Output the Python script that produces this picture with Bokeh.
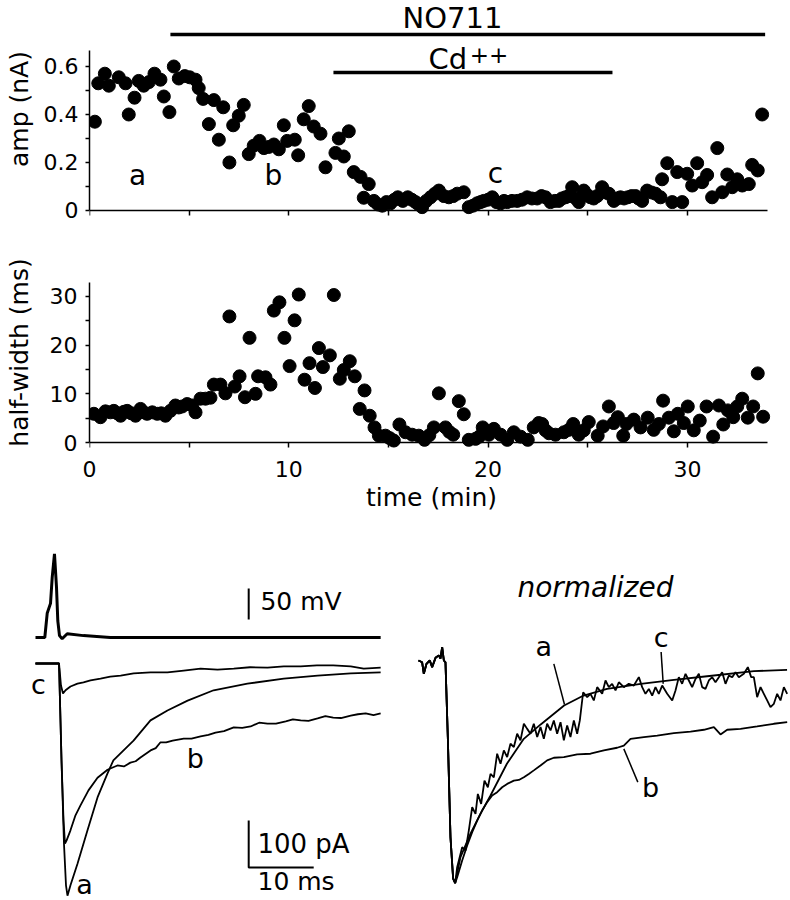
from bokeh.plotting import figure
from bokeh.layouts import column, row
from bokeh.models import Range1d, FixedTicker, Label, LinearAxis
from bokeh.embed import file_html
from bokeh.resources import INLINE

FONT = "DejaVu Sans"

# ---------------- data: time course (min) ----------------
amp_t = [0.27, 0.44, 0.77, 0.97, 1.47, 1.81, 1.97, 2.26, 2.47, 2.72, 2.98, 3.26, 3.56, 3.73, 4.01,
         4.23, 4.48, 4.78, 5.03, 5.32, 5.48, 5.70, 5.99, 6.24, 6.49, 6.71, 7.02, 7.21, 7.49, 7.74,
         7.99, 8.24, 8.53, 8.75, 9.00, 9.25, 9.50, 9.75, 9.92, 10.30, 10.47, 10.75, 11.00, 11.25,
         11.59, 11.84, 12.34, 12.51, 12.76, 13.01, 13.26, 13.60, 13.76, 14.01, 14.27, 14.48, 14.69,
         14.90, 15.10, 15.30, 15.47, 15.72, 15.97, 16.17, 16.36, 16.52, 16.69, 16.90, 17.11, 17.33,
         17.53, 17.78, 18.03, 18.25, 18.45, 18.78, 19.03, 19.24, 19.45, 19.62, 19.78, 20.00, 20.21,
         20.42, 20.62, 20.80, 20.96, 21.20, 21.46, 21.70, 21.96, 22.20, 22.46, 22.68, 22.88, 23.13,
         23.35, 23.55, 23.70, 23.88, 24.05, 24.22, 24.40, 24.55, 24.80, 24.97, 25.14, 25.30, 25.47,
         25.72, 25.90, 26.06, 26.31, 26.48, 26.64, 26.82, 27.01, 27.20, 27.40, 27.55, 27.73, 27.98,
         28.20, 28.40, 28.65, 28.73, 28.99, 29.24, 29.49, 29.74, 29.99, 30.24, 30.49, 30.74, 30.99,
         31.24, 31.50, 31.75, 32.00, 32.25, 32.50, 32.75, 33.08, 33.25, 33.53, 33.75]
amp_nA = [0.37, 0.53, 0.57, 0.52, 0.555, 0.53, 0.40, 0.47, 0.54, 0.52, 0.535, 0.57, 0.545, 0.475, 0.41,
          0.60, 0.55, 0.56, 0.555, 0.545, 0.51, 0.465, 0.36, 0.46, 0.295, 0.43, 0.20, 0.355, 0.395, 0.44,
          0.235, 0.27, 0.29, 0.26, 0.265, 0.275, 0.255, 0.355, 0.29, 0.295, 0.23, 0.38, 0.435, 0.35,
          0.32, 0.18, 0.24, 0.30, 0.225, 0.33, 0.16, 0.14, 0.053, 0.11, 0.04, 0.025, 0.02,
          0.035, 0.03, 0.045, 0.055, 0.04, 0.055, 0.045, 0.035, 0.025, 0.014, 0.04, 0.055, 0.07,
          0.083, 0.06, 0.055, 0.06, 0.07, 0.076, 0.014, 0.02, 0.03, 0.035, 0.04, 0.045, 0.055,
          0.035, 0.03, 0.04, 0.035, 0.04, 0.04, 0.045, 0.055, 0.05, 0.05, 0.06, 0.055, 0.035,
          0.04, 0.04, 0.05, 0.055, 0.06, 0.097, 0.05, 0.035, 0.083, 0.065, 0.055, 0.05, 0.06,
          0.097, 0.075, 0.07, 0.04, 0.05, 0.055, 0.05, 0.055, 0.06, 0.06, 0.05, 0.04, 0.083,
          0.075, 0.07, 0.055, 0.13, 0.197, 0.035, 0.16, 0.035, 0.153, 0.104, 0.197, 0.118, 0.148,
          0.055, 0.26, 0.076, 0.15, 0.097, 0.13, 0.104, 0.11, 0.19, 0.167, 0.40]

hw_t = [0.22, 0.55, 0.80, 1.05, 1.22, 1.40, 1.56, 1.72, 1.89, 2.10, 2.31, 2.56, 2.72, 2.89, 3.15,
        3.40, 3.60, 3.81, 4.06, 4.31, 4.48, 4.65, 4.90, 5.15, 5.32, 5.57, 5.82, 6.07, 6.24, 6.57,
        6.82, 7.02, 7.29, 7.53, 7.80, 8.03, 8.33, 8.46, 8.83, 9.08, 9.25, 9.53, 9.78, 10.04, 10.29,
        10.50, 10.79, 11.04, 11.31, 11.51, 11.71, 12.06, 12.26, 12.56, 12.76, 13.06, 13.31, 13.56,
        13.80, 14.06, 14.30, 14.52, 14.85, 15.06, 15.27, 15.55, 15.86, 16.19, 16.52, 16.81, 17.05,
        17.28, 17.53, 17.86, 18.05, 18.25, 18.53, 18.78, 19.03, 19.37, 19.55, 19.73, 20.04, 20.29,
        20.63, 20.96, 21.29, 21.63, 21.99, 22.29, 22.54, 22.71, 22.88, 23.05, 23.38, 23.80, 24.05,
        24.27, 24.55, 24.80, 25.05, 25.50, 25.77, 26.06, 26.30, 26.51, 26.78, 26.94, 27.31, 27.65,
        28.01, 28.31, 28.57, 28.78, 29.07, 29.32, 29.52, 29.82, 30.02, 30.32, 30.62, 30.96, 31.29,
        31.58, 31.80, 32.03, 32.30, 32.50, 32.75, 33.03, 33.30, 33.53, 33.80]
hw_ms = [5.9, 5.2, 6.4, 6.2, 6.5, 6.0, 5.5, 6.3, 6.5, 6.0, 5.5, 6.9, 6.2, 5.9, 6.2,
         5.9, 6.0, 5.5, 6.5, 7.6, 7.2, 7.4, 7.9, 7.6, 6.2, 9.0, 9.0, 9.2, 11.9, 11.9,
         10.1, 25.9, 11.5, 13.6, 9.3, 21.5, 10.0, 13.6, 13.4, 11.9, 27.1, 28.8, 21.5, 15.7, 25.1,
         30.4, 12.9, 16.3, 11.2, 19.4, 15.5, 17.9, 30.3, 13.1, 14.9, 16.7, 13.6, 6.9,
         10.7, 5.5, 3.1, 1.4, 1.4, 0.9, 0.4, 3.7, 2.1, 1.6, 1.4, 0.55, 1.5,
         3.1, 10.1, 3.1, 2.2, 1.6, 8.5, 5.8, 0.55, 0.75, 1.2, 3.1, 1.6, 2.8,
         1.6, 0.55, 2.1, 1.2, 0.55, 3.1, 4.0, 3.8, 2.5, 1.9, 1.6, 2.1, 2.6,
         3.8, 1.6, 2.5, 4.2, 1.4, 3.3, 7.4, 4.0, 5.2, 1.4, 3.8, 4.7, 3.1,
         5.1, 2.6, 3.8, 8.6, 5.1, 2.3, 5.9, 4.0, 7.4, 2.5, 4.5, 7.4, 1.2,
         7.6, 3.7, 6.6, 5.2, 7.4, 9.0, 5.1, 7.4, 14.2, 5.3]

drug_names = ["NO711", "Cd"]
drug_start = [4.06, 12.24]
drug_end = [33.90, 26.24]

time_ticks = [0, 5, 10, 15, 20, 25, 30]
amp_ticks = [0, 0.1, 0.2, 0.3, 0.4, 0.5, 0.6]
hw_ticks = [0, 5, 10, 15, 20, 25, 30]

# ---------------- data: example traces (ms) ----------------
vm_t = [0, 1.43, 1.80, 2.31, 2.57, 2.92, 3.23, 3.43, 3.69, 4.10, 4.88, 7.38, 11.5, 53.1]
vm_mV = [-65, -65, -26, -10, 32, 70, 16, -38, -62, -67, -59, -62, -65, -65]

ia_t = [0.0, 3.62, 4.00, 4.38, 4.69, 4.92, 5.38, 6.46, 8.00, 9.54, 11.08, 11.98, 15.08, 17.69,
        20.30, 23.40, 27.40, 32.60, 38.20, 43.40, 48.50, 53.10]
ia_pA = [0, 0, -206, -383, -472, -494, -472, -426, -355, -285, -234, -206, -164, -121,
         -100, -79, -57, -43, -32, -26, -21, -19]
ib_t = [0, 3.62, 4.00, 4.31, 4.54, 4.77, 5.38, 6.15, 6.92, 8.15, 9.54, 11.08, 12.60, 13.60, 14.60,
        15.40, 16.15, 17.70, 18.50, 19.20, 20.10, 21.10, 22.80, 24.00, 25.40, 26.60, 27.70, 29.00,
        30.50, 31.80, 33.10, 34.40, 35.70, 37.00, 38.50, 39.60, 40.80, 42.00, 43.40, 44.60, 45.80,
        47.00, 48.50, 49.60, 50.80, 52.00, 53.10]
ib_pA = [0, 0, -206, -334, -383, -377, -355, -323, -302, -270, -243, -226, -217, -219, -211,
         -208, -200, -185, -180, -168, -168, -164, -160, -160, -155, -152, -147, -144,
         -136, -137, -134, -126, -128, -128, -123, -119, -121, -122, -117, -112, -115,
         -116, -111, -108, -106, -110, -106]
ic_t = [0, 3.62, 3.92, 4.23, 4.62, 5.38, 6.46, 7.38, 8.46, 10.0, 11.5, 13.1, 15.1, 17.7, 20.3,
        22.8, 25.4, 28.0, 30.5, 33.0, 35.7, 38.2, 40.8, 43.3, 45.8, 48.5, 50.5, 53.1]
ic_pA = [0, 0, -47, -64, -57, -49, -43, -40, -36, -32, -28, -26, -21, -19, -19,
         -15, -11, -13, -11, -8, -9, -6, -6, -4, -4, -6, -11, -9]

# normalized traces (shared onset, then each recovery)
on_t = [0.0, 0.56, 0.82, 1.23, 1.74, 2.10, 2.62, 3.13, 3.38, 3.64, 3.90, 4.15, 4.51, 4.92, 5.33, 5.64]
on_v = [0.0, -0.008, -0.060, -0.015, 0.0, -0.030, 0.012, 0.023, 0.008, 0.060, 0.0, -0.008,
        -0.345, -0.796, -0.983, -1.003]
na_t = [6.46, 8.00, 9.54, 11.08, 13.60, 16.20, 18.80, 22.40, 25.40, 29.00, 34.20, 39.30, 44.40, 51.60, 56.70]
na_v = [-0.886, -0.780, -0.690, -0.608, -0.465, -0.353, -0.288, -0.203, -0.158, -0.128, -0.105,
        -0.087, -0.071, -0.048, -0.042]
nb_t = [5.95, 6.72, 7.49, 8.26, 9.03, 9.79, 10.56, 11.33, 12.10, 12.87, 13.64, 14.67, 15.44, 16.21,
        16.97, 17.74, 18.77, 19.79, 20.82, 22.36, 24.41, 26.46, 28.51, 30.56, 31.59, 32.62, 34.67,
        36.72, 39.28, 41.85, 43.90, 45.44, 46.46, 47.49, 49.54, 52.10, 54.67, 56.72]
nb_v = [-0.976, -0.901, -0.833, -0.773, -0.721, -0.676, -0.638, -0.608, -0.593, -0.571, -0.556,
        -0.541, -0.538, -0.526, -0.511, -0.495, -0.473, -0.450, -0.438, -0.435, -0.423, -0.420,
        -0.405, -0.393, -0.383, -0.353, -0.345, -0.338, -0.327, -0.320, -0.312, -0.300, -0.333,
        -0.312, -0.308, -0.297, -0.285, -0.278]
nc_t = [5.95, 6.72, 7.23, 7.74, 8.26, 8.77, 9.13, 9.64, 10.15, 10.67, 11.08, 11.59, 12.10, 12.62,
        13.13, 13.64, 14.15, 14.67, 15.18, 15.69, 16.21, 16.72, 17.23, 17.74, 18.26, 18.77, 19.28,
        19.79, 20.31, 20.82, 21.33, 21.85, 22.36, 22.87, 23.38, 23.90, 24.41, 24.82, 25.33, 25.95,
        26.46, 26.97, 27.49, 28.26, 28.77, 29.28, 29.79, 30.31, 30.82, 31.59, 32.36, 33.13, 33.90,
        34.41, 34.92, 35.44, 35.95, 36.46, 36.97, 37.49, 38.26, 39.03, 39.54, 40.05, 40.56, 41.08,
        41.59, 42.10, 42.62, 43.13, 43.64, 44.15, 44.67, 45.18, 45.69, 46.21, 46.72, 47.23, 47.74,
        48.26, 48.77, 49.28, 50.05, 50.67, 51.18, 51.59, 52.10, 52.62, 53.13, 53.64, 54.15, 54.67,
        55.18, 55.69, 56.21, 56.72]
nc_v = [-0.931, -0.841, -0.856, -0.766, -0.661, -0.691, -0.601, -0.646, -0.541, -0.571, -0.511,
        -0.526, -0.420, -0.465, -0.405, -0.435, -0.375, -0.390, -0.330, -0.360, -0.285, -0.308,
        -0.330, -0.285, -0.345, -0.300, -0.353, -0.285, -0.315, -0.270, -0.330, -0.278, -0.360,
        -0.293, -0.345, -0.270, -0.330, -0.270, -0.143, -0.165, -0.150, -0.180, -0.120, -0.150,
        -0.090, -0.120, -0.105, -0.135, -0.098, -0.120, -0.105, -0.113, -0.075, -0.120, -0.150,
        -0.128, -0.158, -0.120, -0.150, -0.113, -0.150, -0.180, -0.135, -0.075, -0.105, -0.060,
        -0.090, -0.120, -0.083, -0.060, -0.120, -0.128, -0.090, -0.075, -0.098, -0.075, -0.053,
        -0.105, -0.068, -0.075, -0.053, -0.075, -0.060, -0.030, -0.075, -0.075, -0.165, -0.120,
        -0.150, -0.180, -0.210, -0.195, -0.150, -0.180, -0.120, -0.150]

SCALE_MV = 50
SCALE_PA = 100
SCALE_MS = 10


def style_axis(ax, tick_fs, label_fs):
    ax.axis_line_width = 1.5
    ax.axis_line_color = "black"
    ax.major_tick_line_width = 1.5
    ax.major_tick_line_color = "black"
    ax.major_tick_in = 0
    ax.major_tick_out = 4
    ax.minor_tick_line_color = None
    ax.major_label_text_font = FONT
    ax.major_label_text_font_size = tick_fs
    ax.major_label_text_color = "black"
    ax.axis_label_text_font = FONT
    ax.axis_label_text_font_size = label_fs
    ax.axis_label_text_font_style = "normal"
    ax.axis_label_text_color = "black"


def base_fig(**kw):
    p = figure(output_backend="svg", toolbar_location=None, **kw)
    p.outline_line_color = None
    p.background_fill_color = "white"
    p.border_fill_color = "white"
    p.grid.visible = False
    return p


def add_text(p, x, y, text, size, align="center", style="normal", **kw):
    p.add_layout(Label(x=x, y=y, text=text, text_font=FONT, text_font_size=size,
                       text_font_style=style, text_align=align, text_baseline="middle",
                       text_color="black", **kw))


# ---------------- panel 1: amplitude ----------------
p1 = base_fig(width=790, height=255, x_range=Range1d(0, 34.32), y_range=Range1d(-0.0292, 0.875),
              min_border_left=89, min_border_right=17, min_border_top=0, min_border_bottom=38)
p1.scatter(amp_t, amp_nA, size=13, marker="circle", fill_color="black", line_color="black")
p1.segment(x0=drug_start, y0=[0.733, 0.575], x1=drug_end, y1=[0.733, 0.575],
           line_color="black", line_width=3.5)
xa = p1.xaxis[0]
style_axis(xa, "22px", "25px")
xa.fixed_location = 0
xa.bounds = (0, 34.0)
xa.ticker = FixedTicker(ticks=time_ticks, minor_ticks=[])
xa.major_tick_out = 5
xa.major_label_overrides = {t: "" for t in time_ticks}
ya = p1.yaxis[0]
style_axis(ya, "22px", "25px")
ya.bounds = (0, 0.667)
ya.ticker = FixedTicker(ticks=amp_ticks, minor_ticks=[])
ya.major_label_overrides = {0: "0", 0.1: "", 0.2: "0.2", 0.3: "", 0.4: "0.4", 0.5: "", 0.6: "0.6"}
ya.major_label_standoff = 7
ya.axis_label = "amp (nA)"
ya.axis_label_standoff = 7

add_text(p1, 18.21, 0.804, drug_names[0], "29px")
add_text(p1, 17.01, 0.633, drug_names[1], "29px", align="left")
add_text(p1, 19.08, 0.65, "++", "23px", align="left")
for lt, lx, ly in (("a", 2.41, 0.1446), ("b", 9.23, 0.1446), ("c", 20.37, 0.153)):
    add_text(p1, lx, ly, lt, "28px")

# ---------------- panel 2: half-width ----------------
p2 = base_fig(width=790, height=270, x_range=Range1d(0, 34.32), y_range=Range1d(-1.438, 38.42),
              min_border_left=89, min_border_right=17, min_border_top=0, min_border_bottom=76)
p2.scatter(hw_t, hw_ms, size=13, marker="circle", fill_color="black", line_color="black")
xb = p2.xaxis[0]
style_axis(xb, "22px", "25px")
xb.axis_line_color = None
xb.major_tick_line_color = None
xb.major_tick_out = 0
xb.ticker = FixedTicker(ticks=time_ticks, minor_ticks=[])
xb.major_label_overrides = {0: "0", 5: "", 10: "10", 15: "", 20: "20", 25: "", 30: "30"}
xb.major_label_standoff = 11
xb.axis_label = "time (min)"
xb.axis_label_standoff = 3
xb0 = LinearAxis(fixed_location=0, bounds=(0, 34.0), ticker=FixedTicker(ticks=time_ticks, minor_ticks=[]),
                 major_label_overrides={t: "" for t in time_ticks})
style_axis(xb0, "22px", "25px")
xb0.major_tick_out = 5
p2.add_layout(xb0, "below")
yb = p2.yaxis[0]
style_axis(yb, "22px", "25px")
yb.bounds = (0, 32.9)
yb.ticker = FixedTicker(ticks=hw_ticks, minor_ticks=[])
yb.major_label_overrides = {0: "0", 5: "", 10: "10", 15: "", 20: "20", 25: "", 30: "30"}
yb.major_label_standoff = 8
yb.axis_label = "half-width (ms)"
yb.axis_label_standoff = 13

# ---------------- panel 3: raw traces ----------------
p3 = base_fig(width=395, height=375, x_range=Range1d(-5.385, 55.385), y_range=Range1d(-504.3, 293.6),
              x_axis_type=None, y_axis_type=None, min_border=0)
p3.extra_y_ranges = {"mv": Range1d(-489.2, 115.6)}
p3.line(vm_t, vm_mV, y_range_name="mv", line_color="black", line_width=3)
p3.line(ia_t, ia_pA, line_color="black", line_width=1.8)
p3.line(ib_t, ib_pA, line_color="black", line_width=1.8)
p3.line(ic_t, ic_pA, line_color="black", line_width=1.8)
sb_t = 32.8
p3.line([sb_t, sb_t], [14, 14 - SCALE_MV], y_range_name="mv", line_color="black", line_width=2)
p3.line([sb_t, sb_t, sb_t + SCALE_MS], [-334, -334 - SCALE_PA, -334 - SCALE_PA],
        line_color="black", line_width=2)
add_text(p3, 34.6, -7.4, f"{SCALE_MV} mV", "25px", align="left", y_range_name="mv")
add_text(p3, 34.15, -385, f"{SCALE_PA} pA", "26px", align="left")
add_text(p3, 34.15, -464.5, f"{SCALE_MS} ms", "25px", align="left")
for lt, lx, ly in (("c", 0.46, -44), ("a", 7.54, -469.6), ("b", 24.6, -201.5)):
    add_text(p3, lx, ly, lt, "27px")

# ---------------- panel 4: normalized traces ----------------
p4 = base_fig(width=395, height=375, x_range=Range1d(-3.538, 57.23), y_range=Range1d(-1.0811, 0.6081),
              x_axis_type=None, y_axis_type=None, min_border=0)
p4.line(on_t + nb_t, on_v + nb_v, line_color="black", line_width=1.8)
p4.line(on_t + na_t, on_v + na_v, line_color="black", line_width=1.8)
p4.line(on_t + nc_t, on_v + nc_v, line_color="black", line_width=1.8)
p4.segment(x0=[20.82, 37.33, 31.59], y0=[-0.015, 0.038, -0.398],
           x1=[22.46, 37.64, 33.74], y1=[-0.198, -0.105, -0.548], line_color="black", line_width=1.5)
for lt, lx, ly in (("a", 19.28, 0.0644), ("c", 37.33, 0.1018), ("b", 35.69, -0.574)):
    add_text(p4, lx, ly, lt, "27px")
add_text(p4, 27.23, 0.3275, "normalized", "28px", style="italic")

layout = column(p1, p2, row(p3, p4))
open("out.html", "w").write(file_html(layout, INLINE))
